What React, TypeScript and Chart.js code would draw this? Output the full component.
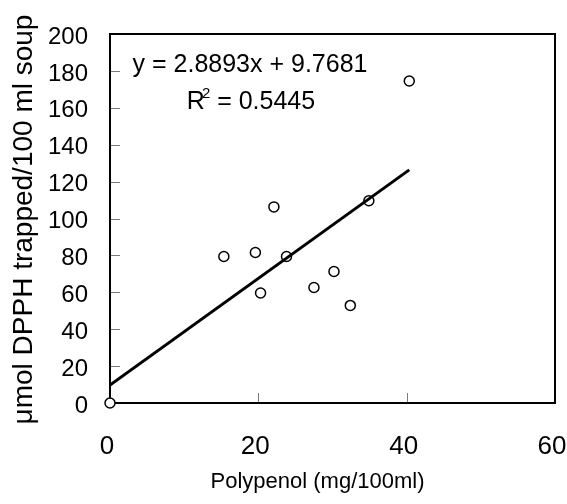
import { useEffect, useRef } from "react";
import { Chart, registerables } from "chart.js";

Chart.register(...registerables);

// ---- data ----
const polyphenol = [0, 15.35, 19.6, 20.3, 22.1, 23.8, 27.5, 30.2, 32.4, 34.9, 40.35];
const dpph = [0, 79.4, 81.6, 59.6, 106.3, 79.4, 62.6, 71.3, 52.9, 109.6, 174.5];

const trendSlope = 2.8893;
const trendIntercept = 9.7681;
const rSquaredText = "0.5445";
const equationText = "y = 2.8893x + 9.7681";

const xAxisRange = [0, 60];
const xAxisStep = 20;
const yAxisRange = [0, 200];
const yAxisStep = 20;

const xTitle = "Polypenol (mg/100ml)";
const yTitle = "μmol DPPH trapped/100 ml soup";

const FONT = "'Liberation Sans', Arial, sans-serif";

export default function App() {
  const ref = useRef<HTMLCanvasElement>(null);

  useEffect(() => {
    document.body.style.margin = "0";
    const canvas = ref.current;
    if (!canvas) return;

    const minX = Math.min(...polyphenol);
    const maxX = Math.max(...polyphenol);
    const points = polyphenol.map((x, i) => ({ x, y: dpph[i] }));
    const trend = [minX, maxX].map((x) => ({ x, y: trendSlope * x + trendIntercept }));

    const framePlugin = {
      id: "frameAndText",
      beforeDatasetsDraw(chart: any) {
        const { ctx, chartArea } = chart;
        const xs = chart.scales.x;
        const ys = chart.scales.y;
        ctx.save();
        // inward tick marks
        ctx.strokeStyle = "#7a7a7a";
        ctx.lineWidth = 1;
        ctx.beginPath();
        for (let v = yAxisRange[0]; v <= yAxisRange[1]; v += yAxisStep) {
          const py = Math.round(ys.getPixelForValue(v)) + 0.5;
          ctx.moveTo(chartArea.left, py);
          ctx.lineTo(chartArea.left + 10, py);
        }
        for (let v = xAxisRange[0]; v <= xAxisRange[1]; v += xAxisStep) {
          const px = Math.round(xs.getPixelForValue(v)) + 0.5;
          ctx.moveTo(px, chartArea.bottom);
          ctx.lineTo(px, chartArea.bottom - 10);
        }
        ctx.stroke();
        // plot frame
        ctx.strokeStyle = "#000";
        ctx.lineWidth = 2;
        ctx.strokeRect(
          chartArea.left,
          chartArea.top,
          chartArea.right - chartArea.left,
          chartArea.bottom - chartArea.top
        );
        ctx.restore();
      },
      afterDraw(chart: any) {
        const { ctx, chartArea } = chart;
        ctx.save();
        ctx.fillStyle = "#000";
        // x title
        ctx.font = `22px ${FONT}`;
        ctx.textAlign = "center";
        ctx.textBaseline = "alphabetic";
        ctx.fillText(xTitle, (chartArea.left + chartArea.right) / 2 - 15, 488);
        // y title
        ctx.save();
        ctx.translate(32, (chartArea.top + chartArea.bottom) / 2 + 1);
        ctx.rotate(-Math.PI / 2);
        ctx.font = `28px ${FONT}`;
        ctx.textAlign = "center";
        ctx.fillText(yTitle, 0, 0);
        ctx.restore();
        // equation
        ctx.font = `25px ${FONT}`;
        ctx.textAlign = "center";
        ctx.fillText(equationText, 250, 72);
        // R^2 line
        ctx.textAlign = "left";
        const big = `25px ${FONT}`;
        const small = `15px ${FONT}`;
        ctx.font = big;
        const wR = ctx.measureText("R").width;
        const rest = " = " + rSquaredText;
        const wRest = ctx.measureText(rest).width;
        ctx.font = small;
        const w2 = ctx.measureText("2").width;
        const total = wR - 3 + w2 + wRest;
        const x0 = 251 - total / 2;
        ctx.font = big;
        ctx.fillText("R", x0, 109);
        ctx.font = small;
        ctx.fillText("2", x0 + wR - 3, 98);
        ctx.font = big;
        ctx.fillText(rest, x0 + wR - 3 + w2, 109);
        ctx.restore();
      },
    };

    const chart = new Chart(canvas, {
      type: "scatter",
      data: {
        datasets: [
          {
            type: "line",
            label: "trend",
            data: trend,
            borderColor: "#000",
            borderWidth: 3,
            pointRadius: 0,
            fill: false,
            order: 0,
          } as any,
          {
            type: "scatter",
            label: "samples",
            data: points,
            pointRadius: 5,
            pointBorderWidth: 1.5,
            pointBorderColor: "#000",
            pointBackgroundColor: "#fff",
            borderColor: "#000",
            backgroundColor: "#fff",
            clip: false,
            order: 1,
          } as any,
        ],
      },
      options: {
        responsive: false,
        animation: false,
        events: [],
        layout: { padding: { top: 34, right: 12, left: 0, bottom: 0 } },
        plugins: {
          legend: { display: false },
          tooltip: { enabled: false },
        },
        scales: {
          x: {
            type: "linear",
            position: "bottom",
            min: xAxisRange[0],
            max: xAxisRange[1],
            grid: { display: false, drawTicks: false },
            border: { display: false },
            ticks: {
              stepSize: xAxisStep,
              padding: 28,
              labelOffset: -3,
              maxRotation: 0,
              color: "#000",
              font: { family: FONT, size: 26 },
            },
            afterFit(scale: any) {
              scale.height = 101;
              scale.paddingLeft = 0;
              scale.paddingRight = 0;
            },
          },
          y: {
            type: "linear",
            position: "left",
            min: yAxisRange[0],
            max: yAxisRange[1],
            grid: { display: false, drawTicks: false },
            border: { display: false },
            ticks: {
              stepSize: yAxisStep,
              padding: 22,
              labelOffset: 3,
              color: "#000",
              font: { family: FONT, size: 24 },
            },
            afterFit(scale: any) {
              scale.width = 110;
              scale.paddingTop = 0;
              scale.paddingBottom = 0;
            },
          },
        },
      },
      plugins: [framePlugin],
    });

    return () => chart.destroy();
  }, []);

  return (
    <div style={{ position: "fixed", left: 0, top: 0, width: 567, height: 504, background: "#fff" }}>
      <canvas ref={ref} width={567} height={504} style={{ display: "block" }} />
    </div>
  );
}
